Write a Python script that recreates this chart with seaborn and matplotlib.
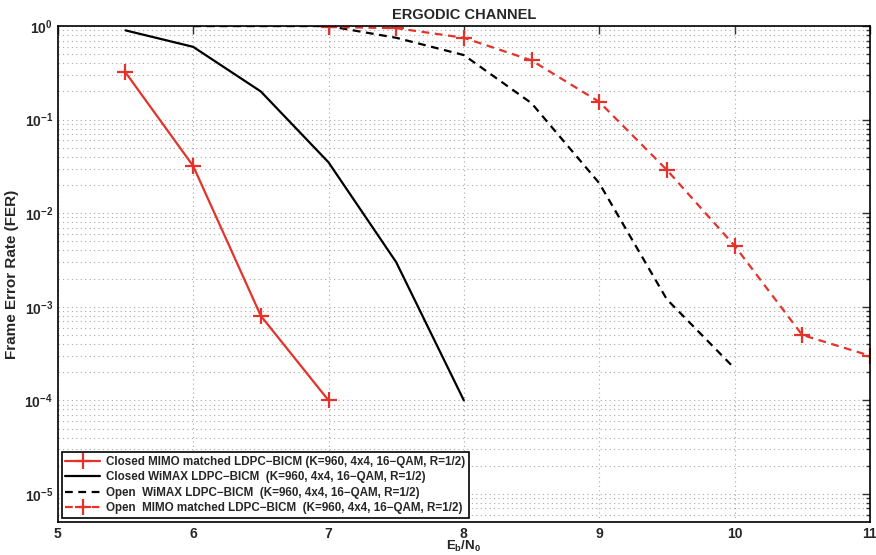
import numpy as np
import pandas as pd
import matplotlib
matplotlib.use("Agg")
import matplotlib.pyplot as plt
import matplotlib.ticker as mticker
import seaborn as sns

# ==============================
# Dados
# ==============================
ebn0_closed_mimo = [5.5, 6.0, 6.5, 7.0]
fer_closed_mimo = [0.32, 0.032, 8e-4, 1e-4]

ebn0_closed_wimax = [5.5, 6.0, 6.5, 7.0, 7.5, 8.0]
fer_closed_wimax = [0.9, 0.6, 0.2, 0.035, 3e-3, 1e-4]

ebn0_open_wimax = [6.0, 7.0, 7.5, 8.0, 8.5, 9.0, 9.5, 10.0]
fer_open_wimax = [1.0, 1.0, 0.75, 0.49, 0.15, 0.021, 1.2e-3, 2.2e-4]

ebn0_open_mimo = [7.0, 7.5, 8.0, 8.5, 9.0, 9.5, 10.0, 10.5, 11.0]
fer_open_mimo = [0.98, 0.95, 0.75, 0.43, 0.155, 0.029, 4.5e-3, 5e-4, 3e-4]

labels = [
    "Closed MIMO matched LDPC\u2212BICM (K=960, 4x4, 16\u2212QAM, R=1/2)",
    "Closed WiMAX LDPC\u2212BICM  (K=960, 4x4, 16\u2212QAM, R=1/2)",
    "Open  WiMAX LDPC\u2212BICM  (K=960, 4x4, 16\u2212QAM, R=1/2)",
    "Open  MIMO matched LDPC\u2212BICM  (K=960, 4x4, 16\u2212QAM, R=1/2)",
]

# ==============================
# Estilo
# ==============================
sns.set_style("white")
plt.rcParams['font.family'] = ['Liberation Sans', 'DejaVu Sans']
plt.rcParams['font.weight'] = 'bold'
plt.rcParams['mathtext.default'] = 'bf'
plt.rcParams['mathtext.fontset'] = 'custom'
plt.rcParams['mathtext.bf'] = 'Liberation Sans:bold'
plt.rcParams['mathtext.rm'] = 'Liberation Sans:bold'

vermelho = '#e3332b'
tracejado = (0, (3.5, 2.5))

fig = plt.figure(figsize=(8.76, 5.55), dpi=100)
ax = fig.add_axes([0.066, 0.0595, 0.927, 0.8935])

sns.lineplot(x=ebn0_closed_mimo, y=fer_closed_mimo, ax=ax, color=vermelho,
             linewidth=1.6, marker='+', markersize=11, markeredgewidth=1.6,
             markeredgecolor=vermelho, label=labels[0])
sns.lineplot(x=ebn0_closed_wimax, y=fer_closed_wimax, ax=ax, color='black',
             linewidth=1.6, label=labels[1])
sns.lineplot(x=ebn0_open_wimax, y=fer_open_wimax, ax=ax, color='black',
             linewidth=1.6, linestyle=tracejado, label=labels[2])
sns.lineplot(x=ebn0_open_mimo, y=fer_open_mimo, ax=ax, color=vermelho,
             linewidth=1.6, linestyle=tracejado, marker='+', markersize=11,
             markeredgewidth=1.6, markeredgecolor=vermelho, label=labels[3])

ax.set_yscale('log')
ax.set_xlim(5, 11)
ax.set_ylim(10**-5.3, 1)
ax.set_xticks([5, 6, 7, 8, 9, 10, 11])
ax.yaxis.set_major_locator(mticker.LogLocator(base=10, numticks=10))
ax.yaxis.set_minor_locator(mticker.LogLocator(base=10, subs=np.arange(2, 10), numticks=20))
ax.yaxis.set_minor_formatter(mticker.NullFormatter())

ax.grid(True, which='major', axis='both', linestyle=(0, (1, 3)), color='#a8a8a8', linewidth=0.8)
ax.grid(True, which='minor', axis='y', linestyle=(0, (1, 3)), color='#a8a8a8', linewidth=0.8)

ax.tick_params(axis='both', which='both', direction='in', top=True, right=True,
               labelsize=10, width=1, color='#333333')
ax.tick_params(axis='both', which='major', length=6)
ax.tick_params(axis='y', which='minor', length=3)
for lab in ax.get_xticklabels() + ax.get_yticklabels():
    lab.set_fontweight('bold')
for s in ax.spines.values():
    s.set_linewidth(1.2)
    s.set_color('black')

ax.set_title('ERGODIC CHANNEL', fontsize=10.5, fontweight='bold', pad=5)
ax.set_xlabel(r'$\mathbf{E_b/N_0}$', fontsize=9.5, va='center')
ax.xaxis.set_label_coords(0.5, -0.05)
ax.set_ylabel('Frame Error Rate (FER)', fontsize=11, fontweight='bold', labelpad=4)

leg = ax.legend(loc='lower left', fontsize=8.4, frameon=True, fancybox=False,
                edgecolor='black', handlelength=3, borderpad=0.3,
                labelspacing=0.3, handletextpad=0.5, borderaxespad=0.35)
leg.get_frame().set_linewidth(1.2)
leg.get_frame().set_alpha(1)
for t in leg.get_texts():
    t.set_fontweight('bold')

fig.savefig('out.png', dpi=100)
